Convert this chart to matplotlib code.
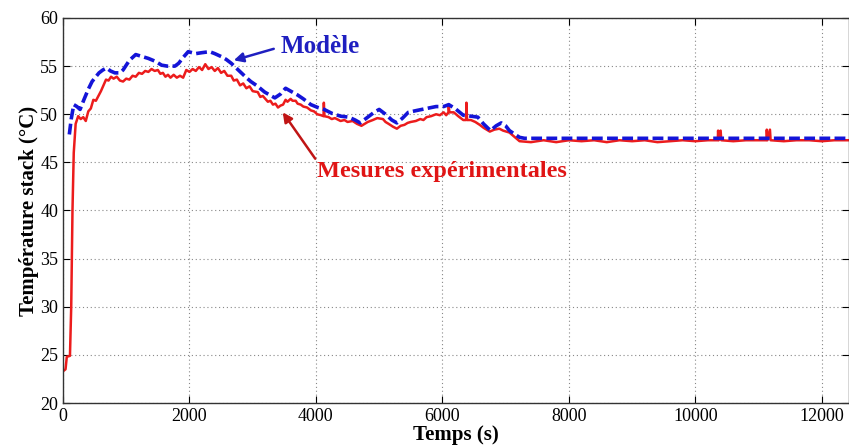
import matplotlib
matplotlib.use("Agg")
import matplotlib.pyplot as plt

# ---- data ----
t_mes = [0, 40, 60, 110, 130, 150, 170, 200, 240, 280, 320, 360, 400, 440, 480, 520,
         560, 600, 640, 680, 720, 760, 800, 850, 900, 950, 1000, 1050, 1100, 1150,
         1200, 1250, 1300, 1350, 1400, 1450, 1500, 1540, 1580, 1620, 1660, 1700, 1750,
         1800, 1850, 1900, 1950, 2000, 2050, 2100, 2150, 2200, 2250, 2300, 2350, 2400,
         2450, 2500, 2550, 2600, 2660, 2700, 2750, 2800, 2850, 2900, 2950, 3000, 3080,
         3120, 3160, 3240, 3280, 3320, 3360, 3400, 3440, 3480, 3520, 3550, 3600, 3630,
         3680, 3710, 3760, 3800, 3860, 3920, 3970, 4020, 4080, 4120, 4125, 4135, 4200,
         4250, 4300, 4390, 4450, 4500, 4580, 4650, 4720, 4770, 4820, 4900, 4970, 5060,
         5100, 5150, 5220, 5280, 5340, 5400, 5450, 5500, 5580, 5650, 5700, 5750, 5820,
         5900, 5960, 6020, 6060, 6095, 6100, 6110, 6180, 6250, 6330, 6375, 6380, 6390,
         6450, 6520, 6590, 6650, 6700, 6750, 6820, 6900, 6960, 7060, 7150, 7220, 7400,
         7600, 7800, 8000, 8200, 8400, 8600, 8800, 9000, 9200, 9400, 9600, 9800, 10000,
         10200, 10355, 10360, 10370, 10400, 10410, 10600, 10800, 11000, 11125, 11130,
         11140, 11180, 11190, 11400, 11600, 11800, 12000, 12200, 12430]
T_mes = [23.3, 23.5, 24.8, 24.9, 30.0, 40.0, 46.0, 49.0, 49.8, 49.5, 49.7, 49.3, 50.3,
         50.6, 51.5, 51.4, 51.9, 52.4, 53.0, 53.6, 53.5, 53.9, 53.7, 53.9, 53.5, 53.4,
         53.7, 53.6, 54.0, 53.9, 54.3, 54.2, 54.5, 54.4, 54.7, 54.5, 54.6, 54.2, 54.3,
         53.9, 54.1, 53.8, 54.1, 53.8, 54.0, 53.8, 54.6, 54.4, 54.7, 54.5, 54.9, 54.6,
         55.2, 54.7, 54.9, 54.5, 54.8, 54.3, 54.5, 54.0, 54.0, 53.5, 53.6, 53.0, 53.2,
         52.7, 52.9, 52.4, 52.3, 51.8, 51.9, 51.3, 51.4, 51.0, 51.1, 50.7, 50.9, 51.0,
         51.5, 51.3, 51.6, 51.4, 51.4, 51.1, 51.0, 50.8, 50.7, 50.4, 50.3, 50.0, 49.9,
         49.8, 51.2, 49.8, 49.7, 49.5, 49.6, 49.3, 49.4, 49.2, 49.3, 49.0, 48.8, 49.0,
         49.2, 49.4, 49.6, 49.5, 49.2, 49.0, 48.7, 48.5, 48.8, 48.9, 49.1, 49.2, 49.3,
         49.5, 49.4, 49.7, 49.8, 50.0, 49.9, 50.2, 49.9, 50.2, 51.0, 50.2, 50.2, 49.8,
         49.4, 49.4, 51.2, 49.4, 49.4, 49.2, 48.9, 48.6, 48.4, 48.2, 48.4, 48.5, 48.3,
         48.1, 47.6, 47.2, 47.1, 47.3, 47.1, 47.3, 47.2, 47.3, 47.1, 47.3, 47.2, 47.3,
         47.1, 47.2, 47.3, 47.2, 47.3, 47.3, 48.3, 47.3, 48.3, 47.3, 47.2, 47.3, 47.3,
         47.3, 48.4, 47.3, 48.4, 47.3, 47.2, 47.3, 47.3, 47.2, 47.3, 47.3]

t_mod = [100, 130, 170, 220, 270, 330, 400, 460, 520, 570, 630, 690, 750, 820, 900,
         950, 1050, 1150, 1250, 1350, 1460, 1560, 1650, 1770, 1830, 1900, 1980, 2100,
         2200, 2320, 2400, 2500, 2580, 2660, 2740, 2820, 2900, 2970, 3080, 3190, 3270,
         3350, 3440, 3520, 3600, 3710, 3800, 3920, 4030, 4130, 4250, 4390, 4520, 4620,
         4700, 4800, 4920, 5000, 5100, 5200, 5280, 5370, 5460, 5600, 5750, 5900, 6020,
         6100, 6200, 6330, 6450, 6560, 6650, 6760, 6850, 6930, 7000, 7060, 7150, 7220,
         7300, 8000, 9000, 10000, 11000, 12000, 12430]
T_mod = [47.9, 49.5, 51.0, 50.8, 50.5, 51.5, 52.6, 53.4, 53.9, 54.3, 54.6, 54.8, 54.5,
         54.3, 54.3, 54.6, 55.6, 56.2, 56.0, 55.8, 55.5, 55.1, 55.0, 55.0, 55.3, 55.9,
         56.5, 56.3, 56.4, 56.5, 56.3, 56.0, 55.7, 55.3, 54.8, 54.3, 53.8, 53.4, 52.9,
         52.3, 52.0, 51.7, 52.1, 52.7, 52.4, 52.0, 51.6, 51.0, 50.7, 50.5, 50.1, 49.8,
         49.7, 49.4, 49.1, 49.6, 50.2, 50.5, 50.0, 49.4, 49.1, 49.6, 50.2, 50.4, 50.6,
         50.8, 50.8, 51.0, 50.6, 49.9, 49.8, 49.7, 49.0, 48.3, 48.8, 49.1, 48.8, 48.3,
         47.9, 47.6, 47.5, 47.5, 47.5, 47.5, 47.5, 47.5, 47.5]

x_ticks = [0, 2000, 4000, 6000, 8000, 10000, 12000]
y_ticks = [20, 25, 30, 35, 40, 45, 50, 55, 60]

serif = ["Liberation Serif", "DejaVu Serif"]
plt.rcParams["font.family"] = serif

fig = plt.figure(figsize=(8.49, 4.48), dpi=100)
ax = fig.add_axes([63 / 849, 1 - 403 / 448, 786 / 849, (403 - 18) / 448])

ax.plot(t_mod, T_mod, color="#1414d8", lw=2.6, ls=(0, (3.0, 1.2)), zorder=3)
ax.plot(t_mes, T_mes, color="#ec1c1c", lw=1.8, zorder=2)

ax.set_xlim(0, 12430)
ax.set_ylim(20, 60)
ax.set_xticks(x_ticks)
ax.set_yticks(y_ticks)
ax.tick_params(direction="in", labelsize=13, length=5, top=True, right=True)
ax.grid(True, ls=(0, (1, 2.5)), color="#888888", lw=0.8)
for s in ax.spines.values():
    s.set_linewidth(1.0)
    s.set_color("#333333")

ax.set_xlabel("Temps (s)", fontsize=15, fontweight="bold", labelpad=0)
ax.set_ylabel("Température stack (°C)", fontsize=15, fontweight="bold", labelpad=1)

ax.annotate("Modèle", xy=(2700, 55.6), xytext=(3440, 57.0), color="#1f1fc0",
            fontsize=18, fontweight="bold", va="center", ha="left",
            arrowprops=dict(arrowstyle="-|>", color="#1f1fc0", lw=1.8,
                            mutation_scale=14, shrinkA=3, shrinkB=0,
                            relpos=(0.0, 0.5)))
ax.annotate("Mesures expérimentales", xy=(3475, 50.2), xytext=(4020, 44.0),
            color="#e01515", fontsize=17.5, fontweight="bold", va="center", ha="left",
            arrowprops=dict(arrowstyle="-|>", color="#c01515", lw=1.8,
                            mutation_scale=14, shrinkA=0, shrinkB=0,
                            relpos=(0.0, 1.0)))

fig.savefig("out.png", dpi=100)
